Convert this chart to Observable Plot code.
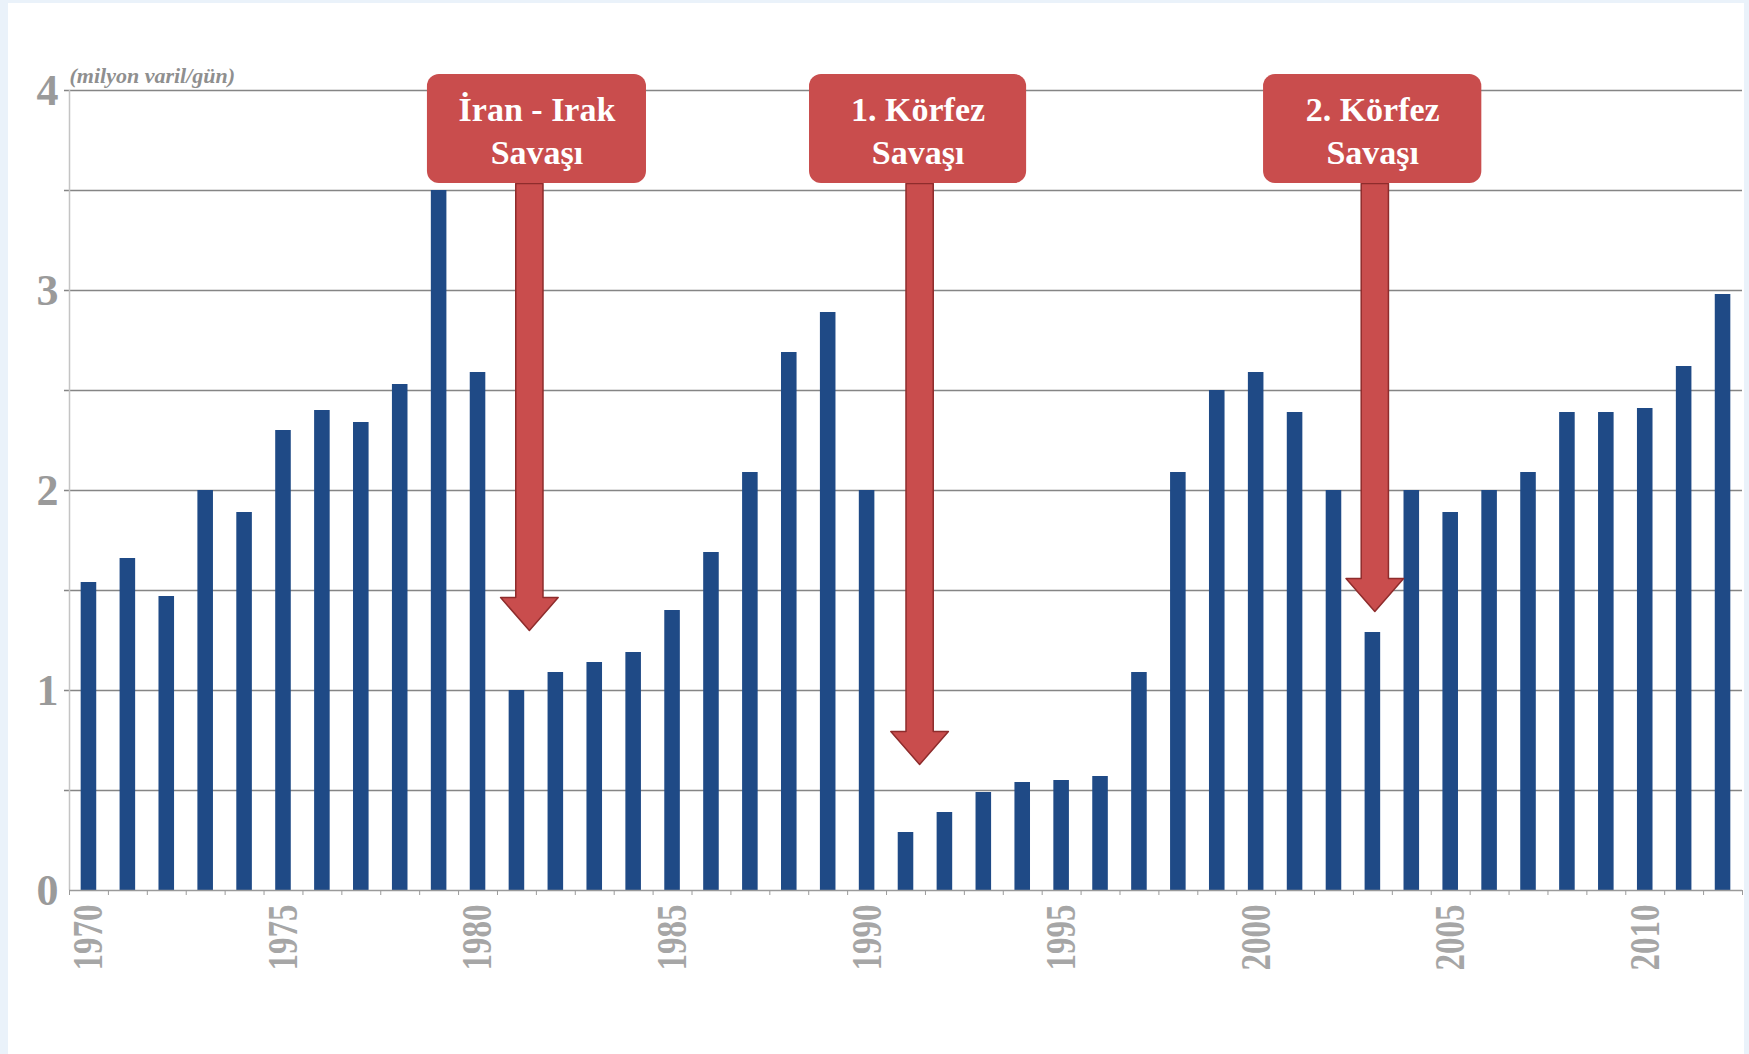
<!DOCTYPE html>
<html><head><meta charset="utf-8">
<script src="https://cdn.jsdelivr.net/npm/d3@7"></script>
<script src="https://cdn.jsdelivr.net/npm/@observablehq/plot@0.6"></script>
<style>
html,body{margin:0;padding:0;background:#eaf2fa;}
#wrap{position:relative;width:1749px;height:1054px;overflow:hidden;}
#panel{position:absolute;left:8px;top:3px;width:1736px;height:1051px;background:#fff;}
#chart{position:absolute;left:0;top:0;}
</style></head><body>
<div id="wrap"><div id="panel"></div><div id="chart"></div></div>
<script>
// ---- data ----
const years = [1970,1971,1972,1973,1974,1975,1976,1977,1978,1979,
               1980,1981,1982,1983,1984,1985,1986,1987,1988,1989,
               1990,1991,1992,1993,1994,1995,1996,1997,1998,1999,
               2000,2001,2002,2003,2004,2005,2006,2007,2008,2009,
               2010,2011,2012];
const values = [1.54,1.66,1.47,2.00,1.89,2.30,2.40,2.34,2.53,3.50,
                2.59,1.00,1.09,1.14,1.19,1.40,1.69,2.09,2.69,2.89,
                2.00,0.29,0.39,0.49,0.54,0.55,0.57,1.09,2.09,2.50,
                2.59,2.39,2.00,1.29,2.00,1.89,2.00,2.09,2.39,2.39,
                2.41,2.62,2.98];
const yLabelTicks = [0,1,2,3,4];
const gridTicks = [0.5,1,1.5,2,2.5,3,3.5,4];
const xLabelYears = [1970,1975,1980,1985,1990,1995,2000,2005,2010];
const unitLabel = "(milyon varil/gün)";

// annotations (war labels and arrows)
const warLabels = ["İran - Irak\nSavaşı", "1. Körfez\nSavaşı", "2. Körfez\nSavaşı"];
const warArrowX = [1981.32, 1991.35, 2003.05];
const warBoxX1 = [1978.70, 1988.52, 2000.19];
const warBoxX2 = [1984.33, 1994.10, 2005.80];
const warHeadY = [1.465, 0.795, 1.56];
const warTipY = [1.30, 0.63, 1.395];
const boxY1 = 3.535, boxY2 = 4.08;

// ---- build ----
const data = years.map((year, i) => ({year, value: values[i]}));
const wars = warLabels.map((label, i) => ({
  label, x: warArrowX[i], x1: warBoxX1[i], x2: warBoxX2[i], head: warHeadY[i], tip: warTipY[i]
}));
const SH = 0.35, HH = 0.74;
const arrowPts = wars.flatMap((w, i) => [
  [w.x - SH, boxY1], [w.x + SH, boxY1], [w.x + SH, w.head], [w.x + HH, w.head],
  [w.x, w.tip], [w.x - HH, w.head], [w.x - SH, w.head]
].map(([x, y]) => ({id: i, x, y})));

const RED = "#c94d4d";
const plot = Plot.plot({
  width: 1749, height: 1054,
  marginLeft: 69, marginRight: 7, marginTop: 90, marginBottom: 164,
  style: {background: "transparent", color: "#9a9a9a", fontFamily: "'Liberation Serif', 'Times New Roman', serif", overflow: "visible"},
  x: {domain: [1969.5, 2012.5]},
  y: {domain: [0, 4]},
  marks: [
    Plot.ruleY(gridTicks, {stroke: "#858585", strokeWidth: 1.6, insetLeft: -5}),
    Plot.ruleX([1969.5], {stroke: "#c4c4c4", strokeWidth: 1.5}),
    Plot.axisY({ticks: yLabelTicks, tickSize: 0, tickPadding: 11, fontSize: 44, fontWeight: "bold", fill: "#9a9a9a", tickFormat: d => String(d)}),
    Plot.axisX({ticks: d3.range(1969.5, 2013, 1), tickSize: 5, tickFormat: () => "", stroke: "#9a9a9a"}),
    Plot.axisX({ticks: xLabelYears, tickSize: 0, tickPadding: 14, tickRotate: -90, fontSize: 42, fontWeight: "bold", fill: "#a6a6a6", tickFormat: d => String(d)}),
    Plot.rectY(data, {x1: d => d.year - 0.2, x2: d => d.year + 0.2, y: "value", fill: "#1f4a86"}),
    Plot.ruleY([0], {stroke: "#9a9a9a", strokeWidth: 1.5}),
    Plot.line(arrowPts, {x: "x", y: "y", z: "id", curve: "linear-closed", fill: RED, stroke: "#8e2c2c", strokeWidth: 1.5}),
    Plot.rect(wars, {x1: "x1", x2: "x2", y1: boxY1, y2: boxY2, fill: RED, rx: 12}),
    Plot.text(wars, {x: d => (d.x1 + d.x2) / 2, y: (boxY1 + boxY2) / 2, text: "label", fill: "white", fontSize: 34, fontWeight: "bold", lineHeight: 1.27}),
    Plot.text([unitLabel], {x: 1969.5, y: 4, text: d => d, dy: -8, lineAnchor: "bottom", textAnchor: "start", fontSize: 22, fontStyle: "italic", fontWeight: "bold", fill: "#8f8f8f"})
  ]
});
document.getElementById("chart").appendChild(plot);
// compress rotated year labels along their baseline like the original
plot.querySelectorAll('g[aria-label="x-axis tick label"] text').forEach(t => {
  if (t.textContent.trim()) {
    t.setAttribute("textLength", 66);
    t.setAttribute("lengthAdjust", "spacingAndGlyphs");
  }
});
</script>
</body></html>
